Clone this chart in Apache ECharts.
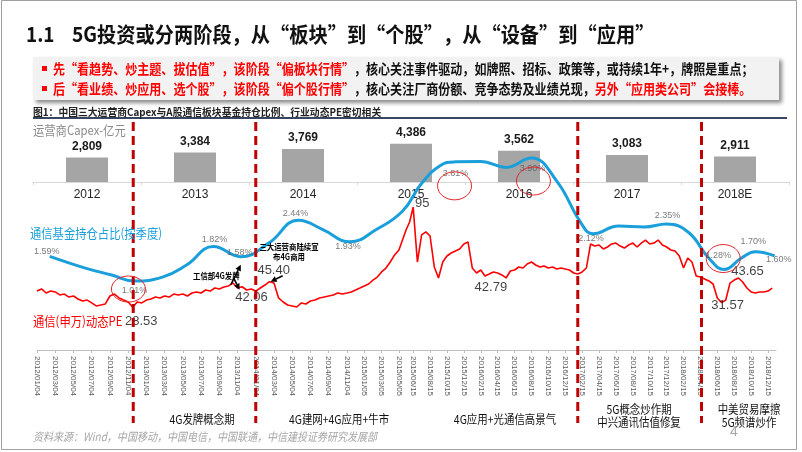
<!DOCTYPE html>
<html><head><meta charset="utf-8">
<script src="https://cdn.jsdelivr.net/npm/echarts@6/dist/echarts.min.js"></script>
<style>html,body{margin:0;padding:0;background:#fff}#c{width:802px;height:452px}</style>
</head><body><div id="c"></div>
<script>
// ---------- data ----------
const capexYears = ['2012','2013','2014','2015','2016','2017','2018E'];
const capexValues = [2809,3384,3769,4386,3562,3083,2911];

const tickLabels = ['2012/01/04','2012/03/04','2012/05/04','2012/07/04','2012/09/04','2012/11/04',
 '2013/01/04','2013/03/04','2013/05/04','2013/07/04','2013/09/04','2013/11/04',
 '2014/01/04','2014/03/04','2014/05/04','2014/07/04','2014/09/04','2014/11/04',
 '2015/01/05','2015/03/05','2015/05/05','2015/06/15','2015/08/15','2015/10/15','2015/12/15',
 '2016/02/15','2016/04/15','2016/06/15','2016/08/15','2016/10/15','2016/12/15',
 '2017/02/15','2017/04/15','2017/06/15','2017/08/15','2017/10/15','2017/12/15',
 '2018/02/15','2018/04/15','2018/06/15','2018/08/15','2018/10/15','2018/12/15'];
// trading-day index of each axis label
const tickDays = [0,41,82,123,164,205,246,287,328,369,410,451,492,533,574,615,656,697,
 736,775,814,846,884,922,960,998,1036,1074,1112,1150,1188,1226,1264,1302,1340,1378,
 1416,1454,1492,1530,1568,1606,1644];

// 通信(申万)动态PE, 4 readings per label interval
const peValues = [
 39.2,40.6,37.9,39.2, 38.6,36.6,37.2,35.2, 35.9,33.9,32.6,33.2, 31.3,29.3,29.9,30.6,
 35.9,37.2,34.6,33.2, 31.9,28.53,31.9,31.3, 33.2,33.9,35.2,34.6, 35.9,35.2,37.2,36.6,
 37.2,35.9,37.9,38.6, 37.9,39.9,39.2,41.2, 40.6,41.9,42.6,44.5, 41.2,42.06,39.9,40.6,
 39.2,41.2,43.2,45.4, 44.5,34.6,31.9,29.9, 29.3,28.6,31.3,30.6, 32.6,33.2,34.6,35.2,
 35.9,36.6,37.9,37.2, 37.9,38.6,39.9,41.2, 42.6,43.9,46.5,48.5, 51.9,54.5,58.5,63.2,
 66.5,73.1,79.8,85.1, 95,58.5,76.5,78.5, 75.8,55.2,47.9,58.5, 62.5,64.5,65.8,67.2,
 70.5,71.8,54.5,51.2, 53.2,49.2,50.5,51.9, 51.2,49.9,47.9,52.5, 53.2,55.2,54.5,57.2,
 58.5,56.5,55.2,55.9, 54.5,55.2,53.9,54.5, 53.9,53.2,51.2,50.5, 51.9,54.5,70.5,69.1,
 69.8,67.2,68.5,70.5, 71.1,69.1,67.8,69.8, 71.1,68.5,71.1,73.1, 70.5,71.1,73.1,69.8,
 68.5,66.5,65.8,62.5, 54.5,61.2,58.5,49.2, 48.5,47.2,45.9,43.9, 34.6,31.57,33.2,44.5,
 46.5,47.9,45.2,41.2, 38.6,37.9,38.6,38.6, 39.2,41.2];

// 通信基金持仓占比 (%)
const fundDates = ['2012/02/15','2012/06/10','2012/09/10','2012/11/25','2013/02/25','2013/05/15',
 '2013/08/15','2013/11/15','2014/02/15','2014/05/25','2014/08/15','2014/11/15','2015/02/15',
 '2015/05/15','2015/07/15','2015/09/20','2015/11/15','2016/02/15','2016/05/15','2016/08/15',
 '2016/11/15','2017/02/10','2017/03/25','2017/06/25','2017/09/25','2017/12/15','2018/03/05',
 '2018/05/15','2018/07/10','2018/09/10','2018/10/30','2019/01/08'];
const fundValues = [1.59,1.32,1.15,1.01,1.10,1.38,1.82,1.58,1.90,2.44,2.22,1.93,2.22,2.65,3.30,
 3.72,3.81,3.82,3.68,3.90,3.35,2.38,2.12,2.30,2.28,2.35,2.15,1.55,1.28,1.55,1.70,1.60];

const peNoteDates = ['2012/11/21','2013/11/14','2014/02/18','2015/06/15','2016/02/08','2018/06/27','2018/08/27'];
const peNoteValues = [28.53,42.06,45.40,95,42.79,31.57,43.65];

const eventDates = ['2012/11/21','2014/01/04','2017/01/30','2018/04/19'];

// ---------- layout / style config ----------
const fundLabelCfg = [[0,-3,-5],[3,0,10],[6,1,-7],[7,-1,-4],[9,-3,-7],[11,-2,5],[16,0,12],
 [19,1,10],[22,-2,5],[25,1,-8],[28,-6,-14],[30,-2,-10],[31,4,4]];
const peNoteOffsets = [[8,14],[11,11],[4,-11],[9,-4],[12,2],[7,3],[10,-13]];
const circleCfg = [[3,-6,8,17,13],[16,-1,24,17,14],[19,2,23,17,14],[28,-1,-11,17,14]];

const CJK = '"Noto Sans CJK SC", sans-serif';
const ARIAL = '"Liberation Sans", Arial, sans-serif';
const BLUE = '#1a9fdb';

// ---------- helpers ----------
const parse = s => { const p = s.split('/').map(Number); return Date.UTC(p[0], p[1]-1, p[2]); };
const tickTimes = tickLabels.map(parse);
function posOf(s) {
  const t = parse(s); let i = 0;
  while (i < tickTimes.length - 2 && t > tickTimes[i+1]) i++;
  const f = (t - tickTimes[i]) / (tickTimes[i+1] - tickTimes[i]);
  return tickDays[i] + f * (tickDays[i+1] - tickDays[i]);
}
const fmtNum = v => Number.isInteger(v) ? String(v) : v.toFixed(2);
const nInt = tickDays.length - 1;
const peData = peValues.map((v, k) => {
  const i = Math.floor(k / 4);
  let x;
  if (i < nInt) x = tickDays[i] + (k % 4) / 4 * (tickDays[i+1] - tickDays[i]);
  else x = tickDays[nInt] + (k - nInt*4) / 4 * (tickDays[nInt] - tickDays[nInt-1]);
  return [x, v];
});
const fundData = fundDates.map((d, i) => [posOf(d), fundValues[i]]);

const chart = echarts.init(document.getElementById('c'));
chart.setOption({
  animation: false,
  backgroundColor: '#fff',
  grid: [
    {left: 33, right: 13, top: 138.3, bottom: 270},
    {left: 37, right: 26, top: 124.4, bottom: 102}
  ],
  xAxis: [
    {type: 'category', gridIndex: 0, data: capexYears,
     axisLine: {lineStyle: {color: '#d9d9d9'}},
     axisTick: {show: true, length: 3, lineStyle: {color: '#d9d9d9'}},
     axisLabel: {fontSize: 12, color: '#262626', fontFamily: ARIAL, margin: 7}},
    {type: 'value', gridIndex: 1, min: 0, max: 1662, offset: 2,
     splitLine: {show: false},
     axisLine: {show: true, lineStyle: {color: '#bfbfbf'}},
     axisTick: {show: true, length: 3, customValues: tickDays, lineStyle: {color: '#bfbfbf'}},
     axisLabel: {customValues: tickDays, rotate: -90, fontSize: 8, color: '#595959', margin: 4,
       fontFamily: ARIAL, formatter: v => tickLabels[tickDays.indexOf(v)] || ''}}
  ],
  yAxis: [
    {type: 'value', gridIndex: 0, min: 0, max: 5000, show: false},
    {type: 'value', gridIndex: 1, min: 0, max: 150, show: false},
    {type: 'value', gridIndex: 1, min: -0.611, max: 4.690, show: false}
  ],
  series: [
    {type: 'bar', xAxisIndex: 0, yAxisIndex: 0, data: capexValues, barWidth: 42,
     itemStyle: {color: '#a5a5a5'},
     label: {show: true, position: 'top', distance: 5, fontSize: 12, fontWeight: 'bold',
       color: '#1a1a1a', fontFamily: ARIAL, formatter: p => p.value.toLocaleString('en-US')}},
    {type: 'line', xAxisIndex: 1, yAxisIndex: 1, data: peData, showSymbol: false, z: 3,
     lineStyle: {color: '#ff0000', width: 1.6}, itemStyle: {color: '#ff0000'}},
    {type: 'line', xAxisIndex: 1, yAxisIndex: 2, data: fundData, showSymbol: false, smooth: 0.45, z: 4,
     lineStyle: {color: BLUE, width: 3}, itemStyle: {color: BLUE}},
    {type: 'scatter', xAxisIndex: 1, yAxisIndex: 2, symbolSize: 1, z: 6,
     itemStyle: {color: 'rgba(0,0,0,0)'},
     data: fundLabelCfg.map(c => ({value: fundData[c[0]],
       label: {show: true, position: 'inside', offset: [c[1], c[2]], fontSize: 9, color: '#595959',
         fontFamily: ARIAL, formatter: () => fundValues[c[0]].toFixed(2) + '%'}}))},
    {type: 'scatter', xAxisIndex: 1, yAxisIndex: 1, symbolSize: 1, z: 6,
     itemStyle: {color: 'rgba(0,0,0,0)'},
     data: peNoteDates.map((d, i) => ({value: [posOf(d), peNoteValues[i]],
       label: {show: true, position: 'inside', offset: peNoteOffsets[i], fontSize: 13, color: '#111',
         fontFamily: ARIAL, formatter: () => fmtNum(peNoteValues[i])}}))}
  ]
});

// ---------- annotations ----------
const toPx = (x, v, yi) => chart.convertToPixel({xAxisIndex: 1, yAxisIndex: yi}, [x, v]);
function txt(x, y, text, o) {
  o = o || {};
  return {type: 'text', x: x, y: y, scaleX: o.sx || 1, z: 50,
    style: {text: text, x: 0, y: 0, fill: o.color || '#000', fontSize: o.size || 12,
      fontFamily: o.font || CJK, fontWeight: o.weight || 'normal', fontStyle: o.style || 'normal',
      textAlign: o.align || 'left', align: o.align || 'left',
      textVerticalAlign: 'middle', verticalAlign: 'middle', rich: o.rich}};
}
function arrow(x1, y1, x2, y2) {
  const a = Math.atan2(y2 - y1, x2 - x1), L = 6, W = 3;
  const bx = x2 - L*Math.cos(a), by = y2 - L*Math.sin(a);
  return [
    {type: 'line', z: 50, shape: {x1: x1, y1: y1, x2: bx, y2: by}, style: {stroke: '#000', lineWidth: 1.6}},
    {type: 'polygon', z: 50, shape: {points: [[x2, y2],
      [bx + W*Math.sin(a), by - W*Math.cos(a)], [bx - W*Math.sin(a), by + W*Math.cos(a)]]},
      style: {fill: '#000'}}
  ];
}
const g = [];
// frame
g.push({type: 'rect', z: 0, shape: {x: 1.5, y: 0.5, width: 795, height: 449}, style: {fill: 'none', stroke: '#a0a0a0', lineWidth: 1}});
// title
g.push(txt(26, 34, '1.1', {size: 21, weight: 'bold', sx: 0.9, color: '#111'}));
g.push(txt(72, 34, '5G投资或分两阶段，从“板块”到“个股”，从“设备”到“应用”', {size: 21, weight: 'bold', sx: 0.915, color: '#111'}));
// bullet box
g.push({type: 'rect', z: 10, shape: {x: 33, y: 57, width: 746, height: 43},
  style: {fill: '#f2f2f2', shadowBlur: 4, shadowOffsetX: 3, shadowOffsetY: 3, shadowColor: 'rgba(0,0,0,0.45)'}});
g.push({type: 'rect', z: 11, shape: {x: 42, y: 66, width: 5, height: 5}, style: {fill: '#ff0000'}});
g.push({type: 'rect', z: 11, shape: {x: 42, y: 86, width: 5, height: 5}, style: {fill: '#ff0000'}});
const richB = {r: {fill: '#ff0000', fontSize: 14, fontWeight: 'bold', fontFamily: CJK},
               k: {fill: '#111', fontSize: 14, fontWeight: 'bold', fontFamily: CJK}};
g.push(txt(53, 69, '{r|先“看趋势、炒主题、拔估值”，该阶段“偏板块行情”}{k|，核心关注事件驱动，如牌照、招标、政策等，或持续1年+，牌照是重点；}',
  {size: 14, sx: 0.86, rich: richB}));
g.push(txt(53, 89, '{r|后“看业绩、炒应用、选个股”，该阶段“偏个股行情”}{k|，核心关注厂商份额、竞争态势及业绩兑现，}{r|另外“应用类公司”会接棒。}',
  {size: 14, sx: 0.86, rich: richB}));
// figure caption + rule
g.push(txt(33, 112, '图1：中国三大运营商Capex与A股通信板块基金持仓比例、行业动态PE密切相关', {size: 10, weight: 'bold', color: '#222', sx: 0.98}));
g.push({type: 'line', z: 10, shape: {x1: 33, y1: 118, x2: 787, y2: 118}, style: {stroke: '#3a4660', lineWidth: 2}});
g.push(txt(33, 130, '运营商Capex-亿元', {size: 13, sx: 0.87, color: '#8c8c8c'}));
g.push(txt(30, 233, '通信基金持仓占比(按季度)', {size: 13, sx: 0.87, color: BLUE}));
g.push(txt(33, 321, '通信(申万)动态PE', {size: 13, sx: 0.87, color: '#ff0000'}));
// event dashed lines
eventDates.forEach(d => {
  const x = chart.convertToPixel({xAxisIndex: 1}, posOf(d));
  g.push({type: 'line', z: 20, shape: {x1: x, y1: 122, x2: x, y2: 423},
    style: {stroke: '#c00000', lineWidth: 3, lineDash: [9, 5]}});
});
// red circles around fund points
circleCfg.forEach(c => {
  const p = toPx(fundData[c[0]][0], fundData[c[0]][1], 2);
  g.push({type: 'ellipse', z: 30, shape: {cx: p[0] + c[1], cy: p[1] + c[2], rx: c[3], ry: c[4]},
    style: {fill: 'none', stroke: '#e3262b', lineWidth: 1}});
});
// arrows and small notes
const b158 = toPx(fundData[7][0], fundData[7][1], 2);
const p4206 = toPx(posOf(peNoteDates[1]), peNoteValues[1], 1);
const p4540 = toPx(posOf(peNoteDates[2]), peNoteValues[2], 1);
g.push(...arrow(b158[0] - 10, b158[1] + 28, b158[0], b158[1] + 8));
g.push(...arrow(p4206[0] - 7, p4206[1] - 9, p4206[0] - 1, p4206[1] + 3));
g.push(...arrow(p4540[0] + 13, p4540[1] - 6, p4540[0] + 1, p4540[1]));
g.push(txt(193, 276, '工信部4G发牌', {size: 8.5, weight: 'bold', sx: 0.87}));
g.push(txt(289, 247, '三大运营商陆续宣', {size: 8.5, weight: 'bold', sx: 0.87, align: 'center'}));
g.push(txt(289, 257, '布4G商用', {size: 8.5, weight: 'bold', sx: 0.87, align: 'center'}));
// period notes
const per = {size: 12, sx: 0.87, align: 'center', color: '#111'};
g.push(txt(202, 419, '4G发牌概念期', per));
g.push(txt(339, 419, '4G建网+4G应用+牛市', per));
g.push(txt(505, 419, '4G应用+光通信高景气', per));
g.push(txt(639, 409, '5G概念炒作期', per));
g.push(txt(639, 422, '中兴通讯估值修复', per));
g.push(txt(749, 409, '中美贸易摩擦', per));
g.push(txt(749, 422, '5G频谱炒作', per));
g.push(txt(734, 432, '4', {size: 14, color: '#a6a6a6', font: ARIAL, align: 'center'}));
g.push(txt(33, 437, '资料来源：Wind，中国移动，中国电信，中国联通，中信建投证券研究发展部',
  {size: 11.5, sx: 0.87, color: '#a6a6a6', style: 'italic'}));
chart.setOption({graphic: g});
</script>
</body></html>
